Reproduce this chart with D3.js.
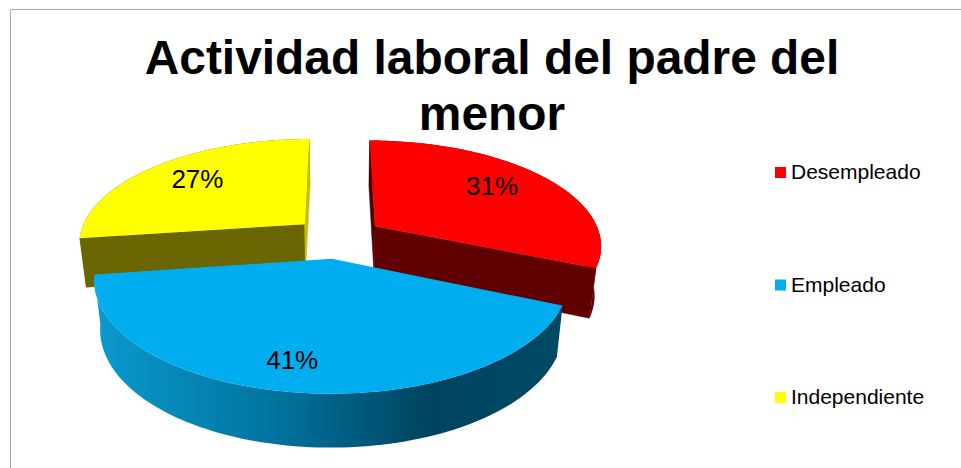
<!DOCTYPE html>
<html>
<head>
<meta charset="utf-8">
<script src="https://cdn.jsdelivr.net/npm/d3@7"></script>
<style>
  html, body { margin: 0; padding: 0; background: #fff; }
  svg { display: block; }
  text { font-family: "Liberation Sans", Arial, sans-serif; fill: #000; }
</style>
</head>
<body>
<svg id="chart" width="961" height="468"></svg>
<script>
const titleLines = ['Actividad laboral del padre del', 'menor'];
const categories = ['Desempleado', 'Empleado', 'Independiente'];
const values = [31.4, 41.4, 27.2];
const labels = ['31%', '41%', '27%'];
const topColors = ['#ff0000', '#00aeef', '#ffff00'];
const sideColors = ['#600000', '#004a66', '#696500'];
const sliverColors = ['#500000', '#004a66', '#c4c000'];

const width = 961, height = 468;
const svg = d3.select('#chart');

// Frame: only top and left edges fall inside the crop
svg.append('path')
  .attr('d', `M10.5,${height}V9.5H${width}`)
  .attr('fill', 'none')
  .attr('stroke', '#a6a6a6')
  .attr('stroke-width', 1);

svg.append('g').selectAll('text')
  .data(titleLines)
  .join('text')
    .attr('x', 492)
    .attr('y', (d, i) => 74 + i * 56)
    .attr('text-anchor', 'middle')
    .attr('font-size', '47.9px')
    .attr('font-weight', 'bold')
    .text(d => d);

// Perspective projection of the pie plane (u right, v towards viewer, unit = radius)
const xScale = d3.scaleLinear().domain([-1, 1]).range([112, 564]);
const yScale = d3.scaleLinear().domain([-1, 1]).range([133.7, 341.3]);
const perspective = 0.17, explode = 0.2, depth = 49, bottomShrink = 0.975;

function project(u, v, lowered) {
  const s = 1 / (1 - perspective * v);
  const x = xScale(u * s), y = yScale(v * s);
  if (!lowered) return [x, y];
  return [xScale(0) + (x - xScale(0)) * bottomShrink, y + depth * Math.pow(s, 0.42)];
}

const slices = d3.pie().sort(null).value(d => d)(values).map((d, i) => {
  const mid = (d.startAngle + d.endAngle) / 2;
  return {
    ...d, i, mid,
    cu: explode * Math.sin(mid),
    cv: -explode * Math.cos(mid)
  };
});

const polar = (d, a, r) => [d.cu + r * Math.sin(a), d.cv - r * Math.cos(a)];

function arcPoints(d, lowered) {
  const n = 90;
  return d3.range(n + 1).map(k => {
    const a = d.startAngle + (d.endAngle - d.startAngle) * k / n;
    const [u, v] = polar(d, a, 1);
    return project(u, v, lowered);
  });
}

const line = d3.line();

// Gradient along the front wall of the blue slice
const grad = svg.append('defs').append('linearGradient')
  .attr('id', 'front-wall')
  .attr('gradientUnits', 'userSpaceOnUse')
  .attr('x1', 94).attr('x2', 562).attr('y1', 0).attr('y2', 0);
[[0, '#0a9acf'], [0.4, '#00729c'], [0.72, '#00435f'], [1, '#004a66']].forEach(([o, c]) => {
  grad.append('stop').attr('offset', o).attr('stop-color', c);
});

function drawSlice(d) {
  const g = svg.append('g').attr('class', 'slice');
  const apexTop = project(d.cu, d.cv, false);
  const apexLow = project(d.cu, d.cv, true);
  const top = arcPoints(d, false);
  const low = arcPoints(d, true);
  const last = top.length - 1;

  // Outer wall
  g.append('path')
    .attr('d', line(top.concat(low.slice().reverse())) + 'Z')
    .attr('fill', d.i === 1 ? 'url(#front-wall)' : sideColors[d.i]);

  // Cut faces: red shows a sliver at its first edge, yellow at its last.
  // The blue slice faces away from both of its cuts, so it has none.
  if (d.i !== 1) {
    const startColor = d.i === 0 ? sliverColors[0] : sideColors[d.i];
    const endColor = d.i === 2 ? sliverColors[2] : sideColors[d.i];
    g.append('path')
      .attr('d', line([apexTop, top[0], low[0], apexLow]) + 'Z')
      .attr('fill', startColor)
      .attr('stroke', startColor)
      .attr('stroke-width', 0.5);
    g.append('path')
      .attr('d', line([apexTop, top[last], low[last], apexLow]) + 'Z')
      .attr('fill', endColor)
      .attr('stroke', endColor)
      .attr('stroke-width', 0.5);
  }

  // Top face
  g.append('path')
    .attr('d', line([apexTop].concat(top)) + 'Z')
    .attr('fill', topColors[d.i]);
}

// Back slices first, blue one sits in front
[slices[0], slices[2], slices[1]].forEach(drawSlice);

// Data labels
const labelRadius = [0.66, 0.8, 0.68];
const labelDx = [4, -10, -4];
const labelDy = [3, 8, 5];
svg.append('g').selectAll('text')
  .data(slices)
  .join('text')
    .attr('x', d => {
      const [u, v] = polar(d, d.mid, labelRadius[d.i]);
      return project(u, v, false)[0] + labelDx[d.i];
    })
    .attr('y', d => {
      const [u, v] = polar(d, d.mid, labelRadius[d.i]);
      return project(u, v, false)[1] + labelDy[d.i];
    })
    .attr('text-anchor', 'middle')
    .attr('font-size', '26px')
    .text(d => labels[d.i]);

// Legend
const legendY = d3.scalePoint().domain(categories).range([179, 404]);
const legend = svg.append('g').selectAll('g')
  .data(categories)
  .join('g')
    .attr('transform', d => `translate(0,${legendY(d)})`);

legend.append('rect')
  .attr('x', 775).attr('y', -12)
  .attr('width', 11).attr('height', 11)
  .attr('fill', (d, i) => topColors[i]);

legend.append('text')
  .attr('x', 791)
  .attr('font-size', '21px')
  .text(d => d);
</script>
</body>
</html>
